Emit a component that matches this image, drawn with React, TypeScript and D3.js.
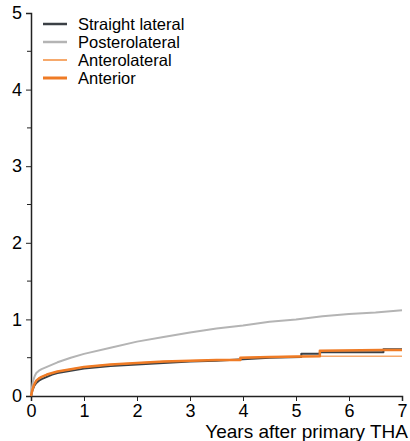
import * as d3 from "d3";
import React, { useRef, useEffect } from "react";

// cumulative revision (%); repeated years are the KM step jumps
const seriesNames = ["Straight lateral", "Posterolateral", "Anterolateral", "Anterior"];
const seriesColors = ["#3b4045", "#b4b4b4", "#f6a96c", "#ef7b25"];
const seriesWidths = [2, 2, 1.5, 2.5];

const straightYears = [0, 0.03, 0.06, 0.1, 0.15, 0.2, 0.3, 0.4, 0.5, 0.75, 1, 1.5, 2, 2.5, 3, 3.5, 4, 4.5, 5.1, 5.1, 5.45, 5.45, 6.65, 6.65, 7];
const straightVals = [0, 0.08, 0.13, 0.17, 0.2, 0.22, 0.25, 0.28, 0.3, 0.33, 0.36, 0.39, 0.41, 0.43, 0.45, 0.46, 0.48, 0.5, 0.51, 0.55, 0.55, 0.57, 0.57, 0.61, 0.61];

const posteroYears = [0, 0.02, 0.04, 0.07, 0.1, 0.15, 0.2, 0.3, 0.5, 0.75, 1, 1.5, 2, 2.5, 3, 3.5, 4, 4.5, 5, 5.5, 6, 6.5, 7];
const posteroVals = [0, 0.12, 0.2, 0.26, 0.3, 0.33, 0.35, 0.38, 0.44, 0.5, 0.55, 0.63, 0.71, 0.77, 0.83, 0.88, 0.92, 0.97, 1.0, 1.04, 1.07, 1.09, 1.12];

const anteroLatYears = [0, 0.03, 0.06, 0.1, 0.15, 0.2, 0.3, 0.4, 0.5, 0.75, 1, 1.5, 2, 2.5, 3, 3.5, 3.95, 3.95, 4.5, 5, 7];
const anteroLatVals = [0, 0.09, 0.15, 0.2, 0.23, 0.25, 0.28, 0.3, 0.32, 0.35, 0.38, 0.41, 0.43, 0.45, 0.46, 0.47, 0.47, 0.5, 0.51, 0.52, 0.52];

const anteriorYears = [0, 0.03, 0.06, 0.1, 0.15, 0.2, 0.3, 0.4, 0.5, 0.75, 1, 1.5, 2, 2.5, 3, 3.5, 3.95, 3.95, 4.5, 5.45, 5.45, 6.6, 7];
const anteriorVals = [0, 0.09, 0.15, 0.2, 0.23, 0.25, 0.28, 0.3, 0.32, 0.35, 0.38, 0.41, 0.43, 0.45, 0.46, 0.47, 0.47, 0.5, 0.51, 0.52, 0.59, 0.6, 0.6];

const xTicks = [0, 1, 2, 3, 4, 5, 6, 7];
const yTicks = [0, 1, 2, 3, 4, 5];
const yMinorTicks = [0.5, 1.5, 2.5, 3.5, 4.5];
const xTitle = "Years after primary THA";

function App() {
    const ref = useRef<SVGSVGElement>(null);

    useEffect(() => {
        const svg = d3.select(ref.current);
        svg.selectAll("*").remove();

        const x = d3.scaleLinear().domain([0, 7]).range([31, 402]);
        const y = d3.scaleLinear().domain([0, 5]).range([396, 13]);
        const font = "'Liberation Sans', Arial, Helvetica, sans-serif";

        const xAxis = d3.axisBottom(x).tickValues(xTicks).tickSize(5).tickPadding(3).tickFormat(d3.format("d"));
        const gx = svg.append("g").attr("transform", `translate(0, ${y(0)})`).call(xAxis);
        gx.select(".domain").attr("stroke", "#222").attr("stroke-width", 1.5);
        gx.selectAll(".tick line").attr("stroke", "#222");
        gx.selectAll(".tick text").attr("font-size", 18).attr("font-family", font).attr("fill", "#000");

        const yAxis = d3.axisLeft(y).tickValues(yTicks).tickSize(5).tickPadding(4).tickFormat(d3.format("d"));
        const gy = svg.append("g").attr("transform", `translate(${x(0)}, 0)`).call(yAxis);
        gy.select(".domain").attr("stroke", "#222").attr("stroke-width", 1.5);
        gy.selectAll(".tick line").attr("stroke", "#222");
        gy.selectAll(".tick text").attr("font-size", 18).attr("font-family", font).attr("fill", "#000");

        svg.append("g")
            .selectAll("line")
            .data(yMinorTicks)
            .enter()
            .append("line")
            .attr("x1", x(0) - 4)
            .attr("x2", x(0))
            .attr("y1", d => y(d))
            .attr("y2", d => y(d))
            .attr("stroke", "#222");

        svg.append("text")
            .text(xTitle)
            .attr("x", 408)
            .attr("y", 438)
            .attr("text-anchor", "end")
            .attr("font-size", 19)
            .attr("font-family", font)
            .attr("fill", "#000");

        const allSeries = [
            { years: straightYears, vals: straightVals },
            { years: posteroYears, vals: posteroVals },
            { years: anteroLatYears, vals: anteroLatVals },
            { years: anteriorYears, vals: anteriorVals },
        ];

        allSeries.forEach((s, i) => {
            const line = d3.line<number>()
                .x((d, j) => x(s.years[j]))
                .y(d => y(d));
            svg.append("path")
                .attr("d", line(s.vals))
                .attr("fill", "none")
                .attr("stroke", seriesColors[i])
                .attr("stroke-width", seriesWidths[i])
                .attr("stroke-linejoin", "round");
        });

        const legend = svg.append("g")
            .selectAll("g")
            .data(seriesNames)
            .enter()
            .append("g")
            .attr("transform", (d, i) => `translate(43, ${24 + i * 18})`);

        legend.append("line")
            .attr("x1", 0)
            .attr("x2", 24)
            .attr("stroke", (d, i) => seriesColors[i])
            .attr("stroke-width", (d, i) => seriesWidths[i] + 0.5);

        legend.append("text")
            .text(d => d)
            .attr("x", 35)
            .attr("dy", "0.35em")
            .attr("font-size", 16.5)
            .attr("font-family", font)
            .attr("fill", "#000");
    }, []);

    return (
        <svg ref={ref} width={410} height={441}
            style={{ position: "absolute", left: 0, top: 0, background: "#fff" }} />
    );
}

export default App;
